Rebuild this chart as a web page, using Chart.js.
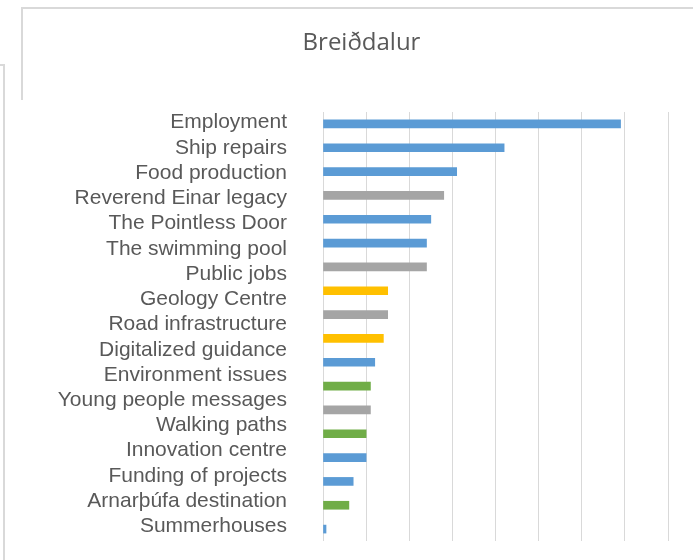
<!DOCTYPE html>
<html>
<head>
<meta charset="utf-8">
<script src="https://cdn.jsdelivr.net/npm/chart.js@4/dist/chart.umd.min.js"></script>
<style>
  body { margin: 0; background: #fff; }
  #wrap { position: relative; width: 693px; height: 560px; overflow: hidden; }
  .frame { position: absolute; border-color: #d9d9d9; border-style: solid; border-width: 0; }
  #frameA { left: 21px; top: 7px; width: 680px; height: 91px; border-top-width: 2px; border-left-width: 2px; }
  #frameB { left: -2px; top: 64px; width: 5px; height: 500px; border-top-width: 2px; border-right-width: 2px; }
  canvas { position: absolute; left: 0; top: 0; }
</style>
</head>
<body>
<div id="wrap">
  <div class="frame" id="frameA"></div>
  <div class="frame" id="frameB"></div>
  <canvas id="chart" width="693" height="560"></canvas>
</div>
<script>
const titleText = "Breiðdalur";

// labels shown on the left (17 of them)
const categories = [
  "Employment", "Ship repairs", "Food production", "Reverend Einar legacy",
  "The Pointless Door", "The swimming pool", "Public jobs", "Geology Centre",
  "Road infrastructure", "Digitalized guidance", "Environment issues",
  "Young people messages", "Walking paths", "Innovation centre",
  "Funding of projects", "Arnarþúfa destination", "Summerhouses"
];

// bars as drawn (18 of them), top to bottom
const barValues = [69, 42, 31, 28, 25, 24, 24, 15, 15, 14, 12, 11, 11, 10, 10, 7, 6, 0.7];
const barGroups = ["b", "b", "b", "g", "b", "b", "g", "y", "g", "y", "b", "gr", "g", "gr", "b", "b", "gr", "b"];

// value axis
const axisMin = 0;
const axisMax = 80;
const axisStep = 10;

const groupColors = { b: "#5b9bd5", g: "#a5a5a5", y: "#ffc000", gr: "#70ad47" };
const barSlots = barValues.map((v, i) => "bar" + (i + 1));

new Chart(document.getElementById("chart"), {
  type: "bar",
  data: {
    labels: barSlots,
    datasets: [{
      data: barValues,
      backgroundColor: barGroups.map(g => groupColors[g]),
      barThickness: 8,
      yAxisID: "y"
    }]
  },
  options: {
    indexAxis: "y",
    responsive: false,
    animation: false,
    events: [],
    layout: { padding: { left: 55, right: 25, top: 0, bottom: 19 } },
    plugins: {
      legend: { display: false },
      tooltip: { enabled: false },
      title: {
        display: true,
        text: titleText,
        color: "#595959",
        font: { family: "'Open Sans'", size: 24, weight: "normal", lineHeight: 1.2 },
        padding: { top: 28.6, bottom: 54.6 }
      }
    },
    scales: {
      x: {
        min: axisMin,
        max: axisMax,
        ticks: { display: false, stepSize: axisStep },
        grid: { color: "#d9d9d9", lineWidth: 1, drawTicks: false },
        border: { display: false },
        afterFit: s => { s.height = 0; }
      },
      y: {
        display: false,
        position: "left"
      },
      yLabels: {
        type: "category",
        position: "left",
        labels: categories,
        offset: true,
        grid: { display: false, drawTicks: false },
        border: { display: false },
        ticks: {
          color: "#595959",
          font: { family: "'Liberation Sans', Arial", size: 21 },
          padding: 36,
          labelOffset: -2,
          autoSkip: false
        },
        afterFit: s => {
          s.width = 268;
          s.paddingTop = 0;
          s.paddingBottom = 0;
        }
      }
    }
  }
});
</script>
</body>
</html>
